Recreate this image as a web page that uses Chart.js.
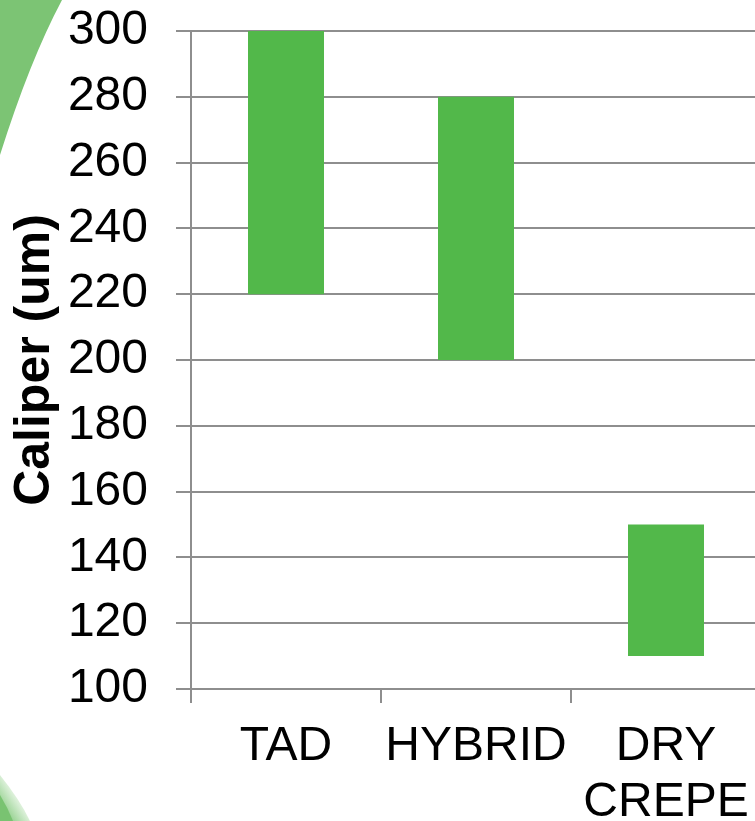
<!DOCTYPE html>
<html>
<head>
<meta charset="utf-8">
<script src="https://cdn.jsdelivr.net/npm/chart.js@4"></script>
<style>
    html, body { margin: 0; padding: 0; background: #fff; overflow: hidden; }
    #wrap { position: relative; width: 770px; height: 821px; }
    #deco { position: absolute; left: 0; top: 0; }
    #chart { position: absolute; left: 0; top: 0; }
</style>
</head>
<body>
<div id="wrap">
    <!-- slide background swooshes, not part of the chart -->
    <svg id="deco" width="770" height="821">
        <defs>
            <linearGradient id="fade2" x1="0" y1="1" x2="1" y2="0">
                <stop offset="0" stop-color="#6cbf64"/>
                <stop offset="0.5" stop-color="#d9efd6"/>
                <stop offset="1" stop-color="#ffffff" stop-opacity="0"/>
            </linearGradient>
        </defs>
        <path d="M0,0 L62,0 Q30,60 0,155 Z" fill="#7cc474"/>
        <path d="M0,775 Q20,800 30,821 L0,821 Z" fill="url(#fade2)"/>
        <path d="M0,795 Q8,808 13,821 L0,821 Z" fill="#79c371"/>
    </svg>
    <canvas id="chart" width="770" height="821"></canvas>
</div>
<script>
const categories = [['TAD'], ['HYBRID'], ['DRY', 'CREPE']];
const caliperLow = [220, 200, 110];
const caliperHigh = [300, 280, 150];
const yTicks = { min: 100, max: 300, step: 20 };

const axisGray = '#8e8e8e';
const barGreen = '#52b84a';
const fontFamily = '"Liberation Sans", Arial, sans-serif';

new Chart(document.getElementById('chart'), {
    type: 'bar',
    data: {
        labels: categories,
        datasets: [{
            label: 'Caliper',
            data: caliperLow.map((lo, i) => [lo, caliperHigh[i]]),
            backgroundColor: barGreen,
            borderWidth: 0,
            categoryPercentage: 1,
            barPercentage: 0.4
        }]
    },
    options: {
        responsive: false,
        animation: false,
        layout: { padding: { top: 31, right: 9, bottom: 0, left: 0 } },
        plugins: { legend: { display: false }, tooltip: { enabled: false } },
        scales: {
            x: {
                grid: { display: true, drawOnChartArea: false, color: axisGray, lineWidth: 2, tickLength: 14, offset: true },
                border: { display: true, color: axisGray, width: 2 },
                ticks: { color: '#000', font: { family: fontFamily, size: 48, lineHeight: 1.18 }, padding: 15, maxRotation: 0, autoSkip: false },
                afterFit: s => { s.height = 132; }
            },
            y: {
                min: yTicks.min,
                max: yTicks.max,
                grid: { color: axisGray, lineWidth: 2, tickLength: 15 },
                border: { display: true, color: axisGray, width: 2 },
                ticks: { stepSize: yTicks.step, color: '#000', font: { family: fontFamily, size: 48 }, padding: 28 },
                title: {
                    display: true,
                    text: 'Caliper (um)',
                    color: '#000',
                    font: { family: fontFamily, size: 50, weight: 'bold', lineHeight: 1.2 },
                    padding: { top: 5, bottom: 0 }
                },
                // keep the plot top at the 300 line, not pushed down by label height
                afterFit: s => { s.width = 191; s.paddingTop = 0; s.paddingBottom = 0; }
            }
        }
    }
});
</script>
</body>
</html>
